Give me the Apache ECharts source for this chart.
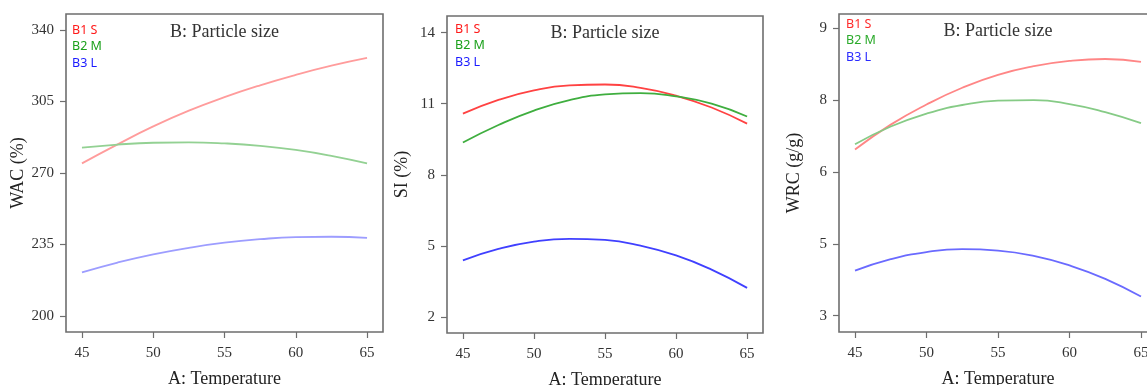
<!DOCTYPE html>
<html>
<head>
<meta charset="utf-8">
<script src="https://cdn.jsdelivr.net/npm/echarts@6/dist/echarts.min.js"></script>
<style>
html,body{margin:0;padding:0;background:#fff;}
#chart{width:1147px;height:385px;}
</style>
</head>
<body>
<div id="chart"></div>
<script>
// ---- data ----
const temps = [45, 47.5, 50, 52.5, 55, 57.5, 60, 62.5, 65];
const seriesNames = ['B1 S', 'B2 M', 'B3 L'];

const wacS = [274.7, 284.0, 292.8, 300.5, 307.1, 312.9, 318.0, 322.5, 326.3];
const wacM = [282.4, 283.9, 284.8, 285.0, 284.5, 283.3, 281.3, 278.4, 274.7];
const wacL = [221.4, 226.2, 230.2, 233.4, 235.9, 237.6, 238.6, 238.8, 238.3];

const siS = [10.58, 11.16, 11.56, 11.77, 11.81, 11.67, 11.34, 10.84, 10.16];
const siM = [9.36, 10.10, 10.71, 11.15, 11.39, 11.45, 11.31, 11.00, 10.46];
const siL = [4.39, 4.87, 5.18, 5.30, 5.25, 5.01, 4.60, 4.00, 3.23];

const wrcS = [6.47, 6.99, 7.41, 7.76, 8.03, 8.21, 8.32, 8.36, 8.30];
const wrcM = [6.58, 6.95, 7.22, 7.40, 7.49, 7.50, 7.42, 7.25, 7.02];
const wrcL = [3.94, 4.18, 4.33, 4.39, 4.36, 4.25, 4.05, 3.77, 3.40];

const xTicks = [45, 50, 55, 60, 65];
const wacTicks = [200, 235, 270, 305, 340];
const siTicks = [2, 5, 8, 11, 14];
const wrcTickValues = [3, 4.5, 6, 7.5, 9];
const wrcTickLabels = ['3', '5', '6', '8', '9'];

const yTitles = ['WAC (%)', 'SI (%)', 'WRC (g/g)'];
const panelTitle = 'B: Particle size';
const xTitle = 'A: Temperature';

// ---- layout / style ----
const grids = [
  {left: 66, top: 14, width: 317, height: 318},
  {left: 447, top: 16, width: 316, height: 317},
  {left: 839, top: 14, width: 318, height: 318}
];
const yRanges = [[192.2, 347.8], [1.325, 14.7], [2.66, 9.30]];
const yTickSets = [wacTicks, siTicks, wrcTickValues];
const lineColors = [
  ['#ff9c9c', '#93d193', '#9d9dff'],
  ['#ff4242', '#3fae3f', '#4040ff'],
  ['#ff8686', '#86cb86', '#6a6aff']
];
const legendColors = [
  ['#ff1a1a', '#1aa01a', '#1a1aff'],
  ['#ff1a1a', '#1aa01a', '#1a1aff'],
  ['#ff2a2a', '#2aaa2a', '#2a2aff']
];
const panelData = [[wacS, wacM, wacL], [siS, siM, siL], [wrcS, wrcM, wrcL]];

const serif = 'Liberation Serif';
const tickFont = {fontFamily: serif, fontSize: 15, color: '#333'};

const option = {
  animation: false,
  backgroundColor: '#fff',
  grid: [], xAxis: [], yAxis: [], series: [], title: [], legend: []
};

grids.forEach((g, i) => {
  option.grid.push(Object.assign({show: true, borderColor: '#6e6e6e', borderWidth: 1.6, backgroundColor: 'transparent', containLabel: false, outerBoundsMode: 'none'}, g));
  option.xAxis.push({
    type: 'value', gridIndex: i, min: 43.88, max: 66.12,
    name: xTitle, nameLocation: 'middle', nameGap: 38,
    nameTextStyle: {fontFamily: serif, fontSize: 18, color: '#222'},
    axisLine: {show: false},
    splitLine: {show: false},
    axisTick: {show: true, length: 6, lineStyle: {color: '#6e6e6e', width: 1.2}, customValues: xTicks},
    axisLabel: Object.assign({margin: 14, customValues: xTicks}, tickFont)
  });
  const ticks = yTickSets[i];
  option.yAxis.push({
    type: 'value', gridIndex: i, min: yRanges[i][0], max: yRanges[i][1],
    name: yTitles[i], nameLocation: 'middle', nameGap: 36, nameRotate: 90,
    nameTextStyle: {fontFamily: serif, fontSize: 18, color: '#222'},
    axisLine: {show: false},
    splitLine: {show: false},
    axisTick: {show: true, length: 6, lineStyle: {color: '#6e6e6e', width: 1.2}, customValues: ticks},
    axisLabel: Object.assign({
      margin: 12, customValues: ticks,
      formatter: i === 2 ? (v => { const k = wrcTickValues.findIndex(t => Math.abs(t - v) < 1e-6); return k >= 0 ? wrcTickLabels[k] : ''; }) : (v => String(Math.round(v)))
    }, tickFont)
  });
  option.title.push({
    text: panelTitle, left: g.left + g.width / 2, top: [23, 24, 22][i], textAlign: 'center', padding: 0,
    textStyle: {fontFamily: serif, fontSize: 18, fontWeight: 'normal', color: '#333'}
  });
  option.legend.push({
    orient: 'vertical', left: g.left + [1, 3, 2][i], top: [23, 22, 17][i], padding: 0,
    icon: 'none', itemWidth: 0, itemHeight: 14, itemGap: 2.7, selectedMode: false,
    textStyle: {fontFamily: 'Noto Sans', fontSize: 12.5, lineHeight: 14},
    data: seriesNames.map((n, k) => ({name: n, textStyle: {color: legendColors[i][k]}}))
  });
  panelData[i].forEach((vals, k) => {
    option.series.push({
      name: seriesNames[k], type: 'line', xAxisIndex: i, yAxisIndex: i,
      smooth: 0.5, showSymbol: false, symbol: 'none', silent: true,
      lineStyle: {color: lineColors[i][k], width: 1.8},
      itemStyle: {color: lineColors[i][k]},
      data: temps.map((t, j) => [t, vals[j]])
    });
  });
});

const chart = echarts.init(document.getElementById('chart'), null, {renderer: 'canvas'});
chart.setOption(option);
</script>
</body>
</html>
